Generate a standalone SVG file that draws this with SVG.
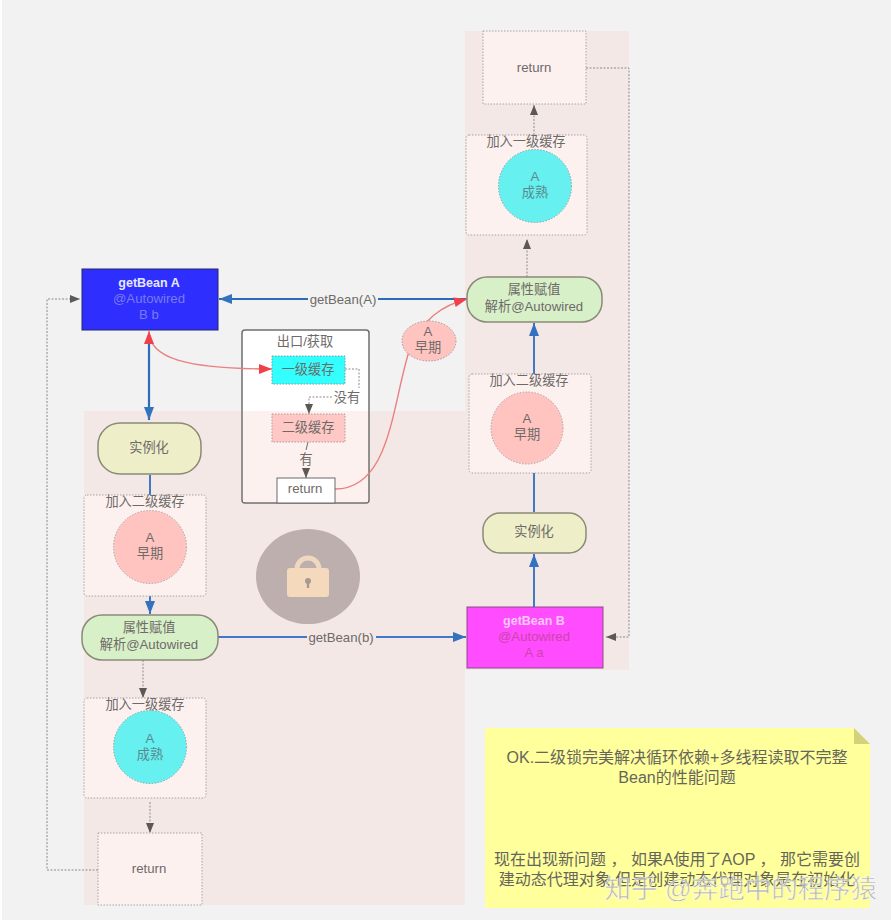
<svg xmlns="http://www.w3.org/2000/svg" width="891" height="920" viewBox="0 0 891 920">
<style>
text{font-family:"Liberation Sans","Noto Sans CJK SC",sans-serif;font-size:13.2px;text-anchor:middle;fill:#6e6a68}
.box{fill:#fdf1f0;stroke:#a8a4a2;stroke-width:1;stroke-dasharray:1.5 1.5}
.term{stroke:#8a8a78;stroke-width:1.5}
.blue{fill:none;stroke:#3f78c4;stroke-width:2}
.bb{fill:none;stroke:#2a6cb8;stroke-width:2.2}
.gray{fill:none;stroke:#8e8a88;stroke-width:1;stroke-dasharray:2 1.5}
.red{fill:none;stroke:#ea8080;stroke-width:1.4}
.lbl{fill:#f2f2f2}
.note{font-size:16px;fill:#66665a}
</style>
<defs>
<marker id="ab" markerUnits="userSpaceOnUse" markerWidth="14" markerHeight="11" refX="13" refY="5" orient="auto-start-reverse"><path d="M0 0L13 5L0 10Z" fill="#3472c0"/></marker>
<marker id="ar" markerUnits="userSpaceOnUse" markerWidth="14" markerHeight="11" refX="13" refY="5" orient="auto-start-reverse"><path d="M0 0L13 5L0 10Z" fill="#f0404a"/></marker>
<marker id="ag" markerUnits="userSpaceOnUse" markerWidth="11" markerHeight="9" refX="10" refY="4" orient="auto"><path d="M0 0L10 4L0 8Z" fill="#5c5856"/></marker>
</defs>
<rect width="891" height="920" fill="#f2f2f2"/>
<rect x="0" y="0" width="2" height="920" fill="#fff"/>
<rect x="84" y="411" width="381" height="494" fill="#f4e8e7"/>
<rect x="465" y="31" width="164" height="639" fill="#f4e8e7"/>
<g id="exit-panel">
<rect x="242" y="330" width="127" height="173" rx="3" fill="#fff" stroke="#6f6f6f" stroke-width="1.5"/>
<rect x="243" y="411" width="125" height="91" fill="#fdf1f0"/>
<text x="305" y="346">出口/获取</text>
</g>
<g id="connectors">
<path class="gray" d="M98 870H47V299H80" marker-end="url(#ag)"/>
<path class="gray" d="M586 68H629V637H606" marker-end="url(#ag)"/>
<path class="gray" d="M534 135V105" marker-end="url(#ag)"/>
<path class="gray" d="M527 277V239" marker-end="url(#ag)"/>
<path class="gray" d="M143 660V698" marker-end="url(#ag)"/>
<path class="gray" d="M150 802V833" marker-end="url(#ag)"/>
<path class="gray" d="M345 369H359V388"/>
<path class="gray" d="M332 397H309V414" marker-end="url(#ag)"/>
<path fill="none" stroke="#6b6b6b" d="M308 442L306 450"/>
<path fill="none" stroke="#6b6b6b" d="M306 468V478" marker-end="url(#ag)"/>
<path class="bb" d="M467 299H219" marker-end="url(#ab)"/>
<path class="bb" d="M149 335V420" marker-end="url(#ab)"/>
<path class="blue" d="M150 475V495"/>
<path class="blue" d="M150 596V614" marker-end="url(#ab)"/>
<path class="blue" d="M218 637H466" marker-end="url(#ab)"/>
<path class="blue" d="M534 607V554" marker-end="url(#ab)"/>
<path class="blue" d="M534 512V473"/>
<path class="blue" d="M534 374V323" marker-end="url(#ab)"/>
<path class="red" d="M149 331C149 358 185 369 272 369" marker-start="url(#ar)" marker-end="url(#ar)"/>
<path class="red" d="M335 489C392 489 392 400 411 345C424 320 440 306 467 299" marker-end="url(#ar)"/>
<rect class="lbl" x="308" y="292" width="70" height="15"/>
<text x="343" y="304">getBean(A)</text>
<rect x="307" y="630" width="69" height="15" fill="#f4e8e7"/>
<text x="341" y="642">getBean(b)</text>
<text x="347" y="402">没有</text>
<text x="306" y="464">有</text>
</g>
<g id="getBeanA">
<rect x="82" y="269" width="136" height="61" fill="#2e2eff" stroke="#24246a"/>
<text x="149" y="287" style="fill:#e6e6ff;font-weight:bold;font-size:12.5px">getBean A</text>
<text x="149" y="303" style="fill:#7a7af0">@Autowired</text>
<text x="149" y="319" style="fill:#7a7af0">B b</text>
</g>
<g id="cache1"><rect x="272" y="356" width="73" height="28" fill="#33ffff" stroke="#7a9a9a" stroke-dasharray="1.5 1.5"/><text x="308" y="374">一级缓存</text></g>
<g id="cache2"><rect x="272" y="414" width="73" height="28" fill="#ffc8c4" stroke="#b09a98" stroke-dasharray="1.5 1.5"/><text x="308" y="432">二级缓存</text></g>
<g id="return-exit"><rect x="277" y="478" width="58" height="25" fill="#fff" stroke="#6b6b6b"/><text x="305" y="493">return</text></g>
<g id="early-bubble"><ellipse cx="429" cy="341" rx="27" ry="20" fill="#ffc4c0" stroke="#a89a98" stroke-dasharray="1.5 1.5"/><text x="428" y="336">A</text><text x="428" y="352">早期</text></g>
<g id="inst-a"><rect x="98" y="423" width="103" height="51" rx="22" fill="#eeefc8" class="term"/><text x="149" y="452">实例化</text></g>
<g id="l2-a"><rect x="84" y="495" width="122" height="101" rx="3" class="box"/><text x="145" y="506">加入二级缓存</text><circle cx="150" cy="547" r="36.5" fill="#ffc4c0" stroke="#b0a09e" stroke-dasharray="1.5 1.5"/><text x="150" y="542">A</text><text x="150" y="558">早期</text></g>
<g id="prop-a"><rect x="82" y="615" width="136" height="45" rx="20" fill="#d8f0c8" class="term"/><text x="149" y="632">属性赋值</text><text x="149" y="649">解析@Autowired</text></g>
<g id="l1-a"><rect x="84" y="698" width="122" height="100" rx="3" class="box"/><text x="145" y="709">加入一级缓存</text><circle cx="150" cy="747" r="36.5" fill="#66f0f0" stroke="#7aa8a8" stroke-dasharray="1.5 1.5"/><text x="150" y="743" style="fill:#5a8a8e">A</text><text x="150" y="759" style="fill:#5a8a8e">成熟</text></g>
<g id="return-a"><rect x="98" y="833" width="104" height="72" class="box"/><text x="149" y="873">return</text></g>
<g id="lock">
<ellipse cx="308" cy="576.5" rx="52" ry="47.5" fill="#bcafad"/>
<path d="M297 572V569a11 11 0 0 1 22 0V572" fill="none" stroke="#f0d8c0" stroke-width="5"/>
<rect x="287" y="568" width="42" height="29" rx="3" fill="#f4d9bd"/>
<circle cx="308" cy="581" r="3" fill="#a89a8e"/><rect x="306.8" y="582" width="2.4" height="6" fill="#a89a8e"/>
</g>
<g id="getBeanB">
<rect x="467" y="607" width="136" height="61" fill="#ff4cff" stroke="#8a4a8a"/>
<text x="534" y="625" style="fill:#f8c8f8;font-weight:bold;font-size:12.5px">getBean B</text>
<text x="534" y="641" style="fill:#cc44a8">@Autowired</text>
<text x="534" y="657" style="fill:#cc44a8">A a</text>
</g>
<g id="inst-b"><rect x="483" y="513" width="103" height="40" rx="17" fill="#eeefc8" class="term"/><text x="534" y="536">实例化</text></g>
<g id="l2-b"><rect x="469" y="374" width="122" height="99" rx="3" class="box"/><text x="529" y="385">加入二级缓存</text><circle cx="527" cy="428" r="36" fill="#ffc4c0" stroke="#b0a09e" stroke-dasharray="1.5 1.5"/><text x="527" y="423">A</text><text x="527" y="439">早期</text></g>
<g id="prop-b"><rect x="467" y="277" width="135" height="45" rx="20" fill="#d8f0c8" class="term"/><text x="534" y="294">属性赋值</text><text x="534" y="311">解析@Autowired</text></g>
<g id="l1-b"><rect x="466" y="135" width="121" height="100" rx="3" class="box"/><text x="526" y="146">加入一级缓存</text><circle cx="535" cy="186" r="36.5" fill="#66f0f0" stroke="#7aa8a8" stroke-dasharray="1.5 1.5"/><text x="535" y="181" style="fill:#5a8a8e">A</text><text x="535" y="197" style="fill:#5a8a8e">成熟</text></g>
<g id="return-b"><rect x="483" y="31" width="103" height="73" class="box"/><text x="534" y="72">return</text></g>
<g id="note">
<path d="M485 728H854L870 744V908H485Z" fill="#ffff9c"/>
<path d="M854 728L870 744H854Z" fill="#d2d27a"/>
<text x="677" y="763" class="note">OK.二级锁完美解决循环依赖+多线程读取不完整</text>
<text x="677" y="783" class="note">Bean的性能问题</text>
<text x="677" y="865" class="note">现在出现新问题 ， 如果A使用了AOP ， 那它需要创</text>
<text x="677" y="885" class="note">建动态代理对象,但是创建动态代理对象是在初始化</text>
</g>
<text x="741" y="898" style="font-size:26.5px;fill:#a8a8a8;opacity:.85;stroke:#fff;stroke-width:.6">知乎 @奔跑中的程序猿</text>
</svg>
